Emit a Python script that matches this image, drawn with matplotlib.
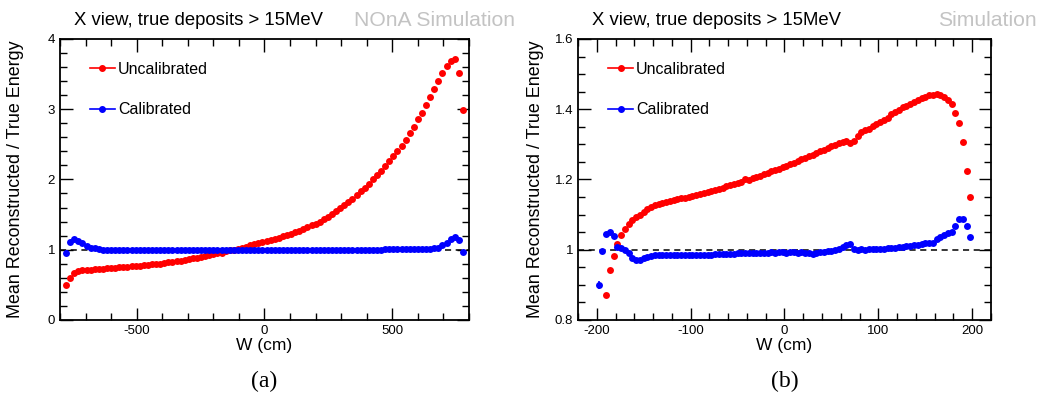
import numpy as np
import matplotlib
matplotlib.use("Agg")
import matplotlib.pyplot as plt
from matplotlib.lines import Line2D
from matplotlib.ticker import MultipleLocator, FuncFormatter

plt.rcParams['font.family'] = ['Liberation Sans', 'DejaVu Sans']
plt.rcParams['axes.unicode_minus'] = False

# 左図: W (cm) と比
w_full = np.arange(-776, 777, 16)
uncal_full = [
    0.50, 0.60, 0.67, 0.695, 0.705, 0.71, 0.715, 0.72, 0.725, 0.73,
    0.735, 0.74, 0.745, 0.75, 0.755, 0.76, 0.765, 0.77, 0.775, 0.78,
    0.785, 0.79, 0.795, 0.80, 0.81, 0.82, 0.825, 0.835, 0.845, 0.855,
    0.865, 0.875, 0.885, 0.895, 0.91, 0.92, 0.935, 0.95, 0.96, 0.975,
    0.99, 1.00, 1.015, 1.03, 1.045, 1.06, 1.075, 1.09, 1.105, 1.12,
    1.14, 1.155, 1.17, 1.19, 1.21, 1.23, 1.25, 1.27, 1.295, 1.32,
    1.345, 1.37, 1.40, 1.435, 1.47, 1.51, 1.55, 1.59, 1.63, 1.675,
    1.725, 1.775, 1.83, 1.88, 1.94, 2.00, 2.06, 2.12, 2.19, 2.26,
    2.33, 2.40, 2.48, 2.56, 2.655, 2.75, 2.855, 2.95, 3.055, 3.17,
    3.29, 3.40, 3.51, 3.62, 3.69, 3.71, 3.51, 2.99,
]
cal_full = [
    0.96, 1.115, 1.15, 1.13, 1.09, 1.05, 1.03, 1.02, 1.01, 1.0,
    0.995, 0.99, 0.99, 0.99, 0.991, 0.99, 0.99, 0.99, 0.991, 0.99,
    0.99, 0.99, 0.991, 0.99, 0.99, 0.99, 0.991, 0.99, 0.99, 0.992,
    0.992, 0.993, 0.993, 0.994, 0.995, 0.995, 0.996, 0.997, 0.997, 0.998,
    0.998, 0.999, 0.999, 1.0, 1.0, 1.0, 1.0, 1.0, 1.0, 1.0,
    1.0, 1.0, 1.0, 1.0, 1.0, 1.0, 1.0, 1.0, 1.0, 1.0,
    1.0, 1.0, 1.0, 1.0, 1.0, 1.0, 1.001, 1.0, 1.001, 1.001,
    1.001, 1.001, 1.001, 1.002, 1.002, 1.002, 1.002, 1.002, 1.003, 1.003,
    1.003, 1.003, 1.003, 1.004, 1.004, 1.004, 1.004, 1.005, 1.01, 1.015,
    1.02, 1.03, 1.06, 1.10, 1.15, 1.18, 1.14, 0.97,
]

# 右図
w_zoom = np.arange(-198, 199, 4)
uncal_zoom = [
    np.nan, np.nan, 0.872, 0.942, 0.983, 1.016, 1.041, 1.058, 1.073, 1.085,
    1.094, 1.100, 1.108, 1.115, 1.122, 1.127, 1.131, 1.134, 1.137, 1.139,
    1.141, 1.143, 1.146, 1.148, 1.151, 1.153, 1.156, 1.159, 1.162, 1.165,
    1.168, 1.171, 1.174, 1.177, 1.180, 1.183, 1.186, 1.190, 1.194, 1.201,
    1.199, 1.203, 1.207, 1.211, 1.215, 1.219, 1.223, 1.227, 1.231, 1.235,
    1.239, 1.243, 1.247, 1.253, 1.257, 1.261, 1.266, 1.271, 1.275, 1.280,
    1.284, 1.289, 1.294, 1.298, 1.303, 1.307, 1.310, 1.304, 1.310, 1.324,
    1.334, 1.340, 1.345, 1.352, 1.358, 1.364, 1.370, 1.376, 1.386, 1.393,
    1.399, 1.405, 1.410, 1.415, 1.420, 1.425, 1.431, 1.436, 1.440, 1.441,
    1.443, 1.441, 1.435, 1.426, 1.414, 1.388, 1.360, 1.308, 1.225, 1.149,
]
cal_zoom = [
    0.900, 0.996, 1.046, 1.049, 1.038, 1.008, 1.005, 0.999, 0.992, 0.975,
    0.970, 0.972, 0.975, 0.979, 0.983, 0.985, 0.986, 0.985, 0.986, 0.985,
    0.985, 0.986, 0.985, 0.985, 0.986, 0.984, 0.985, 0.986, 0.986, 0.985,
    0.986, 0.987, 0.987, 0.988, 0.988, 0.989, 0.989, 0.990, 0.990, 0.991,
    0.991, 0.991, 0.992, 0.992, 0.991, 0.992, 0.993, 0.992, 0.993, 0.993,
    0.992, 0.993, 0.993, 0.992, 0.993, 0.992, 0.990, 0.989, 0.991, 0.993,
    0.994, 0.995, 0.997, 0.999, 1.003, 1.008, 1.012, 1.017, 1.002, 0.999,
    1.002, 1.000, 1.003, 1.002, 1.001, 1.003, 1.002, 1.004, 1.005, 1.006,
    1.007, 1.008, 1.010, 1.011, 1.013, 1.014, 1.016, 1.018, 1.019, 1.020,
    1.030, 1.036, 1.041, 1.047, 1.051, 1.068, 1.087, 1.088, 1.068, 1.036,
]
# 最初の点だけ誤差棒が見える
cal_zoom_err = [0.012]

RED = "#ff0000"
BLUE = "#0000ff"
GRAY = "#c3c3c3"
TITLE = "X view, true deposits > 15MeV"
MS = 5.0


def style_axes(ax, xlim, ylim, xmaj, xmin, ymaj, ymin, ylab_x):
    ax.set_xlim(*xlim)
    ax.set_ylim(*ylim)
    ax.xaxis.set_major_locator(MultipleLocator(xmaj))
    ax.xaxis.set_minor_locator(MultipleLocator(xmin))
    ax.yaxis.set_major_locator(MultipleLocator(ymaj))
    ax.yaxis.set_minor_locator(MultipleLocator(ymin))
    ax.tick_params(which="both", direction="in", top=True, right=True,
                   labelsize=9.5, width=1.0)
    ax.tick_params(which="major", length=9)
    ax.tick_params(which="minor", length=5)
    for s in ax.spines.values():
        s.set_linewidth(1.3)
    ax.axhline(1.0, color="black", ls=(0, (4, 3)), lw=1.1, zorder=1)
    ax.set_xlabel("W (cm)", fontsize=12.5, labelpad=1)
    ax.set_ylabel("Mean Reconstructed / True Energy", fontsize=12.9)
    ax.yaxis.set_label_coords(ylab_x, 0.5)
    handles = [
        Line2D([0], [0], color=RED, marker="o", ms=4, lw=1.2),
        Line2D([0], [0], color=BLUE, marker="o", ms=4, lw=1.2),
    ]
    ax.legend(handles, ["Uncalibrated", "Calibrated"], loc="upper left",
              bbox_to_anchor=(0.0733, 0.918), frameon=False, fontsize=11.5,
              labelspacing=1.58, handlelength=1.55, handletextpad=0.2,
              borderpad=0, borderaxespad=0)


fig = plt.figure(figsize=(10.45, 3.95), dpi=100)
ax1 = fig.add_axes([0.0574, 0.19, 0.3914, 0.7114])
ax2 = fig.add_axes([0.5531, 0.19, 0.3952, 0.7114])

ax1.plot(w_full, uncal_full, "o", color=RED, ms=MS, mew=0, zorder=3)
ax1.plot(w_full, cal_full, "o", color=BLUE, ms=MS, mew=0, zorder=3)
style_axes(ax1, (-800, 800), (0, 4), 500, 100, 1, 0.2, -0.087)

ax2.plot(w_zoom, uncal_zoom, "o", color=RED, ms=MS, mew=0, zorder=3)
ax2.plot(w_zoom, cal_zoom, "o", color=BLUE, ms=MS, mew=0, zorder=3)
ax2.errorbar(w_zoom[:1], cal_zoom[:1], yerr=cal_zoom_err, fmt="none",
             ecolor=BLUE, elinewidth=1.2, zorder=3)
style_axes(ax2, (-220, 220), (0.8, 1.6), 100, 20, 0.2, 0.05, -0.082)
ax2.yaxis.set_major_formatter(FuncFormatter(
    lambda v, p: "1" if abs(v - 1) < 1e-9 else f"{v:.1f}"))

# タイトルとラベル
fig.text(0.0708, 0.948, TITLE, fontsize=13.3, va="center")
fig.text(0.3388, 0.948, "NOnA Simulation", fontsize=15.2, va="center",
         color=GRAY)
fig.text(0.5665, 0.948, TITLE, fontsize=13.3, va="center")
fig.text(0.8976, 0.948, "Simulation", fontsize=15.2, va="center",
         color=GRAY)
fig.text(0.2526, 0.034, "(a)", fontsize=17, ha="center", va="center",
         family="Liberation Serif")
fig.text(0.7506, 0.034, "(b)", fontsize=17, ha="center", va="center",
         family="Liberation Serif")

fig.savefig("out.png", dpi=100)
